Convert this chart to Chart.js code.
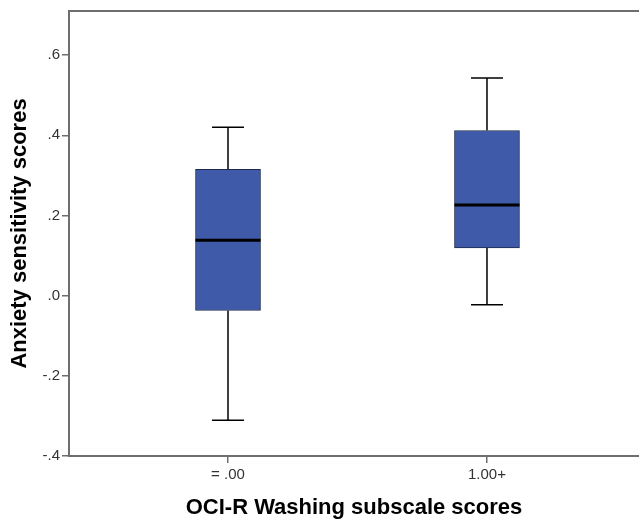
<!DOCTYPE html>
<html>
<head>
<meta charset="utf-8">
<script src="https://cdn.jsdelivr.net/npm/chart.js@4.4.1/dist/chart.umd.min.js"></script>
<style>
  html, body { margin: 0; padding: 0; background: #fff; overflow: hidden; }
  #wrap { width: 639px; height: 522px; }
</style>
</head>
<body>
<div id="wrap"><canvas id="box"></canvas></div>
<script>
// groups on the x axis and their five-number summaries
const groups = ['= .00', '1.00+'];
const groupPos = [1, 2];
const whiskerLow = [-0.311, -0.023];
const q1 = [-0.037, 0.119];
const median = [0.138, 0.226];
const q3 = [0.315, 0.412];
const whiskerHigh = [0.420, 0.543];
const yTicks = [-0.4, -0.2, 0, 0.2, 0.4, 0.6];

const axisGray = '#6e6e6e';
const fontFamily = "'Liberation Sans', Arial, sans-serif";

function fmtY(v) {
    const d = Math.round(Math.abs(v) * 10);
    return (v < 0 ? '-' : '') + '.' + d;
}

// whiskers, caps, medians and the top frame line
const boxParts = {
    id: 'boxParts',
    beforeDatasetsDraw(chart) {
        const {ctx, scales: {x, y}} = chart;
        ctx.save();
        ctx.strokeStyle = '#000';
        ctx.lineWidth = 1.5;
        groupPos.forEach((p, i) => {
            const cx = x.getPixelForValue(p);
            ctx.beginPath();
            ctx.moveTo(cx, y.getPixelForValue(whiskerHigh[i]));
            ctx.lineTo(cx, y.getPixelForValue(q3[i]));
            ctx.moveTo(cx, y.getPixelForValue(q1[i]));
            ctx.lineTo(cx, y.getPixelForValue(whiskerLow[i]));
            [whiskerHigh[i], whiskerLow[i]].forEach(v => {
                const py = y.getPixelForValue(v);
                ctx.moveTo(cx - 16, py);
                ctx.lineTo(cx + 16, py);
            });
            ctx.stroke();
        });
        ctx.restore();
    },
    afterDatasetsDraw(chart) {
        const {ctx, scales: {x, y}, chartArea} = chart;
        ctx.save();
        ctx.strokeStyle = '#000';
        ctx.lineWidth = 3;
        groupPos.forEach((p, i) => {
            const cx = x.getPixelForValue(p);
            const py = y.getPixelForValue(median[i]);
            ctx.beginPath();
            ctx.moveTo(cx - 32.5, py);
            ctx.lineTo(cx + 32.5, py);
            ctx.stroke();
        });
        ctx.strokeStyle = axisGray;
        ctx.lineWidth = 2;
        ctx.beginPath();
        ctx.moveTo(chartArea.left, chartArea.top);
        ctx.lineTo(chartArea.right, chartArea.top);
        ctx.stroke();
        ctx.restore();
    }
};

new Chart(document.getElementById('box'), {
    type: 'bar',
    data: {
        datasets: [{
            data: groupPos.map((p, i) => ({x: p, y: [q1[i], q3[i]]})),
            backgroundColor: '#3e5aa9',
            borderColor: '#1e2a4a',
            borderWidth: 1,
            borderSkipped: false,
            barThickness: 65
        }]
    },
    options: {
        responsive: true,
        maintainAspectRatio: false,
        animation: false,
        layout: {padding: {top: 10, right: 0, bottom: 0, left: 0}},
        plugins: {legend: {display: false}, tooltip: {enabled: false}},
        scales: {
            x: {
                type: 'linear',
                offset: false,
                min: 0.386,
                max: 2.587,
                afterBuildTicks: s => { s.ticks = groupPos.map(v => ({value: v})); },
                afterFit: s => { s.height = 66; },
                border: {color: axisGray, width: 2},
                grid: {display: true, drawOnChartArea: false, offset: false, tickLength: 7, color: axisGray, lineWidth: 1.5},
                ticks: {
                    callback: v => groups[groupPos.indexOf(v)],
                    font: {family: fontFamily, size: 15},
                    color: '#333',
                    padding: 3,
                    maxRotation: 0
                },
                title: {
                    display: true,
                    text: 'OCI-R Washing subscale scores',
                    font: {family: fontFamily, size: 22, weight: 'bold'},
                    color: '#000',
                    padding: {top: 0, bottom: 1}
                }
            },
            y: {
                min: -0.4,
                max: 0.71,
                afterBuildTicks: s => { s.ticks = yTicks.map(v => ({value: v})); },
                afterFit: s => { s.width = 69; },
                border: {color: axisGray, width: 2},
                grid: {display: true, drawOnChartArea: false, tickLength: 7, color: axisGray, lineWidth: 1.5},
                ticks: {
                    callback: v => fmtY(v),
                    font: {family: fontFamily, size: 15},
                    color: '#333',
                    padding: 2
                },
                title: {
                    display: true,
                    text: 'Anxiety sensitivity scores',
                    font: {family: fontFamily, size: 22, weight: 'bold'},
                    color: '#000',
                    padding: {top: 7, bottom: 0}
                }
            }
        }
    },
    plugins: [boxParts]
});
</script>
</body>
</html>
